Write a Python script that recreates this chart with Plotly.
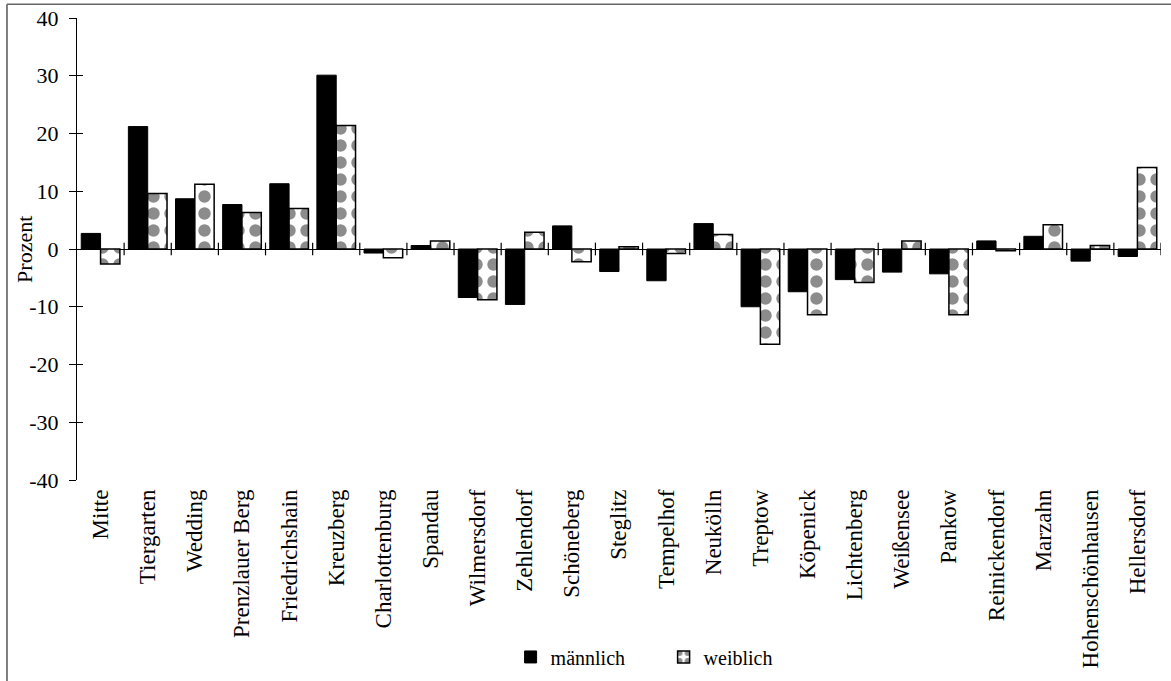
import plotly.graph_objects as go

# Berliner Bezirke
bezirke = [
    "Mitte", "Tiergarten", "Wedding", "Prenzlauer Berg", "Friedrichshain",
    "Kreuzberg", "Charlottenburg", "Spandau", "Wilmersdorf", "Zehlendorf",
    "Schöneberg", "Steglitz", "Tempelhof", "Neukölln", "Treptow", "Köpenick",
    "Lichtenberg", "Weißensee", "Pankow", "Reinickendorf", "Marzahn",
    "Hohenschönhausen", "Hellersdorf",
]

# Veränderung in Prozent
maennlich = [2.7, 21.2, 8.7, 7.7, 11.3, 30.1, -0.7, 0.6, -8.4, -9.6, 4.0,
             -3.9, -5.5, 4.4, -10.0, -7.4, -5.3, -4.0, -4.3, 1.4, 2.2, -2.1, -1.3]
weiblich = [-2.6, 9.6, 11.2, 6.3, 7.0, 21.4, -1.5, 1.4, -8.8, 2.9, -2.2,
            0.4, -0.8, 2.5, -16.5, -11.4, -5.8, 1.4, -11.4, -0.3, 4.2, 0.6, 14.1]

y_ticks = [40, 30, 20, 10, 0, -10, -20, -30, -40]

SERIF = "Liberation Serif"

fig = go.Figure()
fig.add_trace(go.Bar(
    x=bezirke, y=maennlich, name="männlich",
    marker=dict(color="black", line=dict(color="black", width=1)),
))
fig.add_trace(go.Bar(
    x=bezirke, y=weiblich, name="weiblich",
    marker=dict(
        color="white",
        line=dict(color="black", width=1.5),
        pattern=dict(shape=".", size=17, solidity=0.42,
                     fgcolor="#1a1a1a", bgcolor="white", fillmode="overlay"),
    ),
))

# Teilstriche auf der Nulllinie zwischen den Bezirken
shapes = []
for i in range(len(bezirke)):
    shapes.append(dict(type="line", xref="x", yref="y",
                       x0=i + 0.5, x1=i + 0.5, y0=-1.1, y1=1.1,
                       line=dict(color="black", width=1.2)))

# Rahmenlinien links und oben
shapes.append(dict(type="line", xref="paper", yref="paper",
                   x0=-0.0646, x1=-0.0646, y0=1.03, y1=-0.44,
                   line=dict(color="#555", width=1.5)))
shapes.append(dict(type="line", xref="paper", yref="paper",
                   x0=-0.0646, x1=1.01, y0=1.03, y1=1.03,
                   line=dict(color="#666", width=1.5)))

fig.update_layout(
    width=1171, height=681,
    margin=dict(l=77, r=10, t=18, b=201, autoexpand=False),
    paper_bgcolor="white", plot_bgcolor="white",
    barmode="group", bargap=0.18, bargroupgap=0,
    font=dict(family=SERIF, color="black"),
    showlegend=True,
    legend=dict(orientation="h", x=0.4, xanchor="left",
                y=-0.383, yanchor="middle",
                font=dict(family=SERIF, size=20, color="black"),
                entrywidth=108, entrywidthmode="pixels",
                itemwidth=30, tracegroupgap=0),
    shapes=shapes,
    annotations=[dict(text="Prozent", xref="paper", yref="paper",
                      x=-0.049, y=0.5, textangle=-90, showarrow=False,
                      xanchor="center", yanchor="middle",
                      font=dict(family=SERIF, size=22, color="black"))],
    xaxis=dict(
        type="category", range=[-0.5, len(bezirke) - 0.5], automargin=False,
        showline=False, showgrid=False, zeroline=False, ticks="",
        ticklabelstandoff=4,
        tickangle=-90, tickfont=dict(family=SERIF, size=23, color="black"),
    ),
    yaxis=dict(
        range=[-40, 40], tickvals=y_ticks, ticktext=[str(v) for v in y_ticks],
        automargin=False,
        showline=True, linecolor="black", linewidth=1,
        ticks="outside", ticklen=7, tickcolor="black", tickwidth=1,
        ticklabelstandoff=6,
        showgrid=False, zeroline=True, zerolinecolor="black", zerolinewidth=1.2,
        tickfont=dict(family=SERIF, size=22, color="black"),
    ),
    yaxis2=dict(
        range=[-40, 40], tickvals=y_ticks, overlaying="y", side="left",
        showticklabels=False, showline=False, showgrid=False, zeroline=False,
        ticks="inside", ticklen=6, tickcolor="black", tickwidth=1,
    ),
)

# unsichtbare Spur für die zweite y-Achse (Teilstriche nach innen)
fig.add_trace(go.Scatter(x=[bezirke[0]], y=[0], yaxis="y2", mode="markers",
                         marker=dict(opacity=0), showlegend=False,
                         hoverinfo="skip"))

fig.write_html("out.html")
